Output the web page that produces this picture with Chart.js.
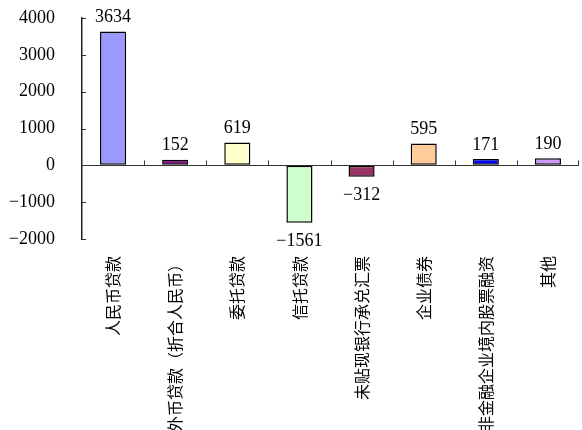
<!DOCTYPE html>
<html>
<head>
<meta charset="utf-8">
<script src="https://cdn.jsdelivr.net/npm/chart.js@4.4.1/dist/chart.umd.min.js"></script>
<style>
  html, body { margin: 0; padding: 0; background: #fff; }
  #wrap { width: 582px; height: 430px; }
</style>
</head>
<body>
<div id="wrap"><canvas id="chart" width="582" height="430"></canvas></div>
<script>
// data
const categories = ["人民币贷款", "外币贷款（折合人民币）", "委托贷款", "信托贷款", "未贴现银行承兑汇票", "企业债券", "非金融企业境内股票融资", "其他"];
const values = [3634, 152, 619, -1561, -312, 595, 171, 190];
const barColors = ["#9999FF", "#800080", "#FFFFCC", "#CCFFCC", "#993366", "#FFCC99", "#0000FF", "#CC99FF"];
const yMin = -2000, yMax = 4000, yStep = 1000;

const numFont = "'Liberation Serif', 'DejaVu Serif', serif";
const fmt = v => v < 0 ? "\u2212" + Math.abs(v) : String(v);

// zero line with category tick marks, inner ticks on the value axis, value labels
const axisMarks = {
  id: "axisMarks",
  beforeDatasetsDraw(chart) {
    const { ctx, chartArea: a, scales: { x, y } } = chart;
    const y0 = Math.round(y.getPixelForValue(0)) + 0.5;
    ctx.save();
    ctx.strokeStyle = "#333";
    ctx.lineWidth = 1;
    ctx.beginPath();
    ctx.moveTo(a.left, y0);
    ctx.lineTo(a.right, y0);
    for (let i = 0; i < categories.length; i++) {
      const px = Math.round(i < categories.length - 1
        ? (x.getPixelForValue(i) + x.getPixelForValue(i + 1)) / 2
        : a.right - 1) + 0.5;
      ctx.moveTo(px, y0);
      ctx.lineTo(px, y0 - 5);
    }
    // inner ticks on y axis
    y.ticks.forEach(t => {
      const py = Math.round(y.getPixelForValue(t.value)) + 0.5;
      ctx.moveTo(a.left, py);
      ctx.lineTo(a.left + 4, py);
    });
    ctx.stroke();
    ctx.restore();
  },
  afterDatasetsDraw(chart) {
    const { ctx } = chart;
    const meta = chart.getDatasetMeta(0);
    ctx.save();
    ctx.fillStyle = "#000";
    ctx.font = "18px " + numFont;
    ctx.textAlign = "center";
    meta.data.forEach((bar, i) => {
      const v = values[i];
      if (v >= 0) {
        ctx.textBaseline = "bottom";
        ctx.fillText(fmt(v), bar.x, bar.y - 5);
      } else {
        ctx.textBaseline = "top";
        ctx.fillText(fmt(v), bar.x, bar.y + 9);
      }
    });
    ctx.restore();
  }
};

new Chart(document.getElementById("chart"), {
  type: "bar",
  data: {
    labels: categories,
    datasets: [{
      data: values,
      backgroundColor: barColors,
      borderColor: "#000",
      borderWidth: 1.5,
      borderSkipped: false,
      barPercentage: 0.42,
      categoryPercentage: 1
    }]
  },
  options: {
    responsive: false,
    animation: false,
    devicePixelRatio: 1,
    layout: { padding: { top: 18, right: 3, left: 0, bottom: 0 } },
    plugins: { legend: { display: false }, tooltip: { enabled: false } },
    scales: {
      x: {
        grid: { display: false },
        border: { display: false },
        ticks: {
          autoSkip: false,
          minRotation: 90,
          maxRotation: 90,
          padding: 9,
          color: "#000",
          font: { family: "'Noto Sans CJK SC', sans-serif", size: 16 }
        },
        afterFit(scale) {
          scale.height = 191;
          scale.paddingLeft = 0;
          scale.paddingRight = 0;
        }
      },
      y: {
        min: yMin,
        max: yMax,
        grid: { drawOnChartArea: false, drawTicks: false },
        border: { display: true, color: "#222", width: 1.5 },
        ticks: {
          stepSize: yStep,
          padding: 27,
          color: "#000",
          font: { family: numFont, size: 18 },
          callback: v => fmt(v)
        },
        afterFit(scale) {
          scale.width = 82;
          scale.paddingTop = 0;
          scale.paddingBottom = 0;
        }
      }
    }
  },
  plugins: [axisMarks]
});
</script>
</body>
</html>
